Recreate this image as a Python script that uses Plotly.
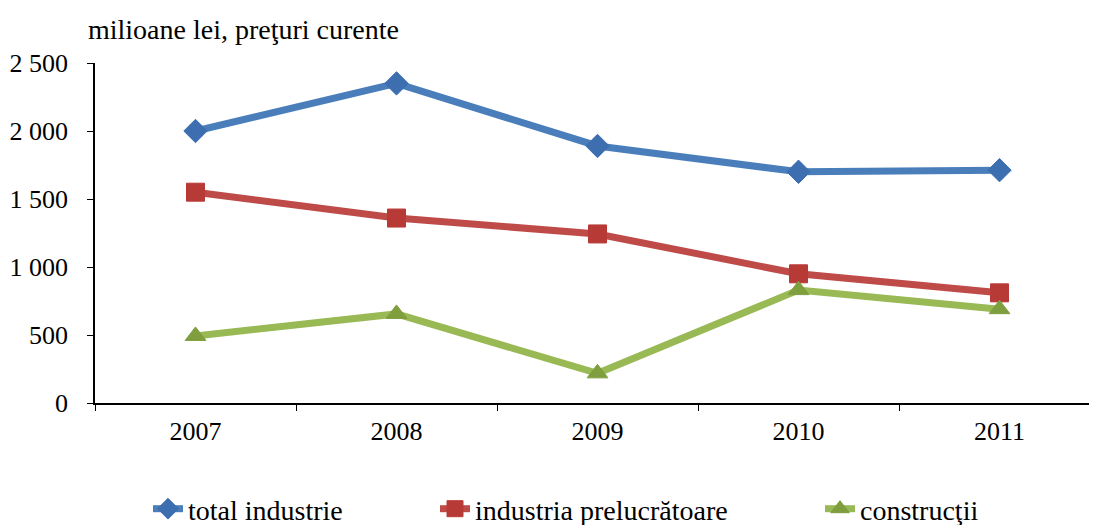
import plotly.graph_objects as go

years = ["2007", "2008", "2009", "2010", "2011"]
total_industrie = [2000, 2350, 1890, 1700, 1712]
industria_prelucratoare = [1550, 1360, 1243, 950, 810]
constructii = [493, 655, 218, 830, 690]

FONT = "Liberation Serif, Times New Roman, serif"

# the page body has an 8px margin, so the figure is 8px smaller than the window
W, H = 1089, 517
OFF = 8

fig = go.Figure()
series = [
    ("total industrie", total_industrie, "#4A7EBB", "diamond", 18, "#3C6EB0", "legend"),
    ("industria prelucrătoare", industria_prelucratoare, "#BE4B48", "square", 18, "#B83A37", "legend2"),
    ("construcţii", constructii, "#98B954", "triangle-up", 18, "#7F9E3E", "legend3"),
]
for name, vals, col, sym, sz, mcol, lg in series:
    fig.add_trace(go.Scatter(
        x=years, y=vals, name=name, mode="lines+markers",
        line=dict(color=col, width=7),
        marker=dict(symbol=sym, size=sz, color=mcol, line=dict(color=mcol, width=1)),
        legend=lg,
    ))

legfont = dict(family=FONT, size=28, color="#000")
LY = 1 - (509 - OFF) / H
def leg(px):
    return dict(x=(px - OFF) / W, y=LY, xref="container", yref="container", xanchor="left",
                yanchor="middle", orientation="h", font=legfont,
                bgcolor="rgba(0,0,0,0)", itemwidth=30)

fig.update_layout(
    width=W, height=H,
    margin=dict(l=95 - OFF, r=0, t=63 - OFF, b=122, autoexpand=False),
    paper_bgcolor="white", plot_bgcolor="white",
    font=dict(family=FONT, size=26, color="#000"),
    separators=", ",
    showlegend=True,
    title=dict(text="milioane lei, preţuri curente", x=(88 - OFF) / W, xanchor="left",
               y=1 - (29 - OFF) / H, yanchor="middle", font=dict(family=FONT, size=28)),
    xaxis=dict(type="category", range=[-0.5, 4.485],
               tickson="boundaries", ticks="outside", ticklen=6, tickcolor="#000",
               showline=True, linecolor="#000", linewidth=1.5, showgrid=False,
               zeroline=False, tickfont=dict(family=FONT, size=26), ticklabelstandoff=4),
    yaxis=dict(range=[0, 2500], tickvals=[0, 500, 1000, 1500, 2000, 2500], tickformat=",d",
               ticks="outside", ticklen=6, tickcolor="#000", showline=True, linecolor="#000",
               linewidth=1.5, showgrid=False, zeroline=False,
               tickfont=dict(family=FONT, size=26), ticklabelstandoff=14),
    legend=leg(148),
    legend2=leg(435),
    legend3=leg(820),
)

fig.write_html("out.html")
